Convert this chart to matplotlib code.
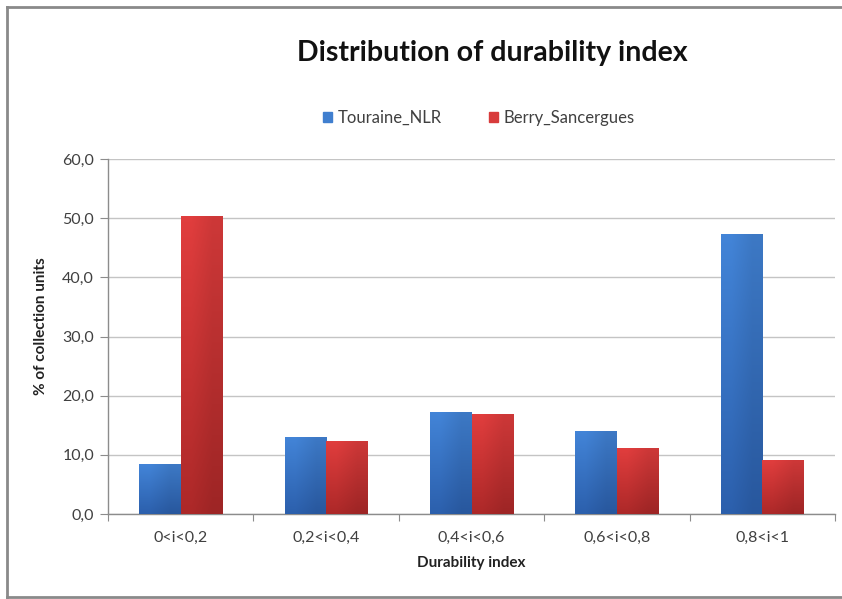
import matplotlib
matplotlib.use("Agg")
import matplotlib.pyplot as plt
import numpy as np
from matplotlib.lines import Line2D
from matplotlib.patches import Rectangle

categories = ["0<i<0,2", "0,2<i<0,4", "0,4<i<0,6", "0,6<i<0,8", "0,8<i<1"]
touraine = [8.4, 13.0, 17.2, 14.0, 47.4]
berry = [50.4, 12.4, 16.9, 11.1, 9.1]
series_names = ["Touraine_NLR", "Berry_Sancergues"]
yticks = [0, 10, 20, 30, 40, 50, 60]
ytick_labels = ["0,0", "10,0", "20,0", "30,0", "40,0", "50,0", "60,0"]

plt.rcParams['font.family'] = ['Lato', 'DejaVu Sans']

fig = plt.figure(figsize=(8.42, 5.99), dpi=100)
ax = fig.add_axes([108/842, 85/599, 727/842, 355/599])

x = np.arange(len(categories))
w = 0.286
blue_top, blue_bot = np.array([0x40, 0x7f, 0xcf]) / 255, np.array([0x2a, 0x5c, 0xa6]) / 255
red_top, red_bot = np.array([0xd8, 0x3b, 0x3b]) / 255, np.array([0xa6, 0x27, 0x27]) / 255

def grad_bars(xs, vals, ctop, cbot, label):
    bars = ax.bar(xs, vals, width=w, color=ctop, label=label, zorder=3, linewidth=0)
    for b in bars:
        x0, y0 = b.get_x(), b.get_y()
        bw, bh = b.get_width(), b.get_height()
        n = 64
        t = np.linspace(0, 1, n)[:, None]
        img = (cbot[None, None, :] * (1 - t[..., None]) + ctop[None, None, :] * t[..., None])
        img = np.repeat(img, 2, axis=1)
        hs = np.linspace(1.04, 0.95, 2)[None, :, None]
        img = np.clip(img * hs, 0, 1)
        im = ax.imshow(img, extent=(x0, x0 + bw, y0, y0 + bh), origin='lower',
                       aspect='auto', zorder=4, interpolation='bilinear')
        im.set_clip_path(b)
    return bars

grad_bars(x - w/2, touraine, blue_top, blue_bot, series_names[0])
grad_bars(x + w/2, berry, red_top, red_bot, series_names[1])

ax.set_xlim(-0.5, len(categories) - 0.5)
ax.set_ylim(0, 60)
ax.set_yticks(yticks)
ax.set_yticklabels(ytick_labels, fontsize=11.5, color='#404040')
ax.yaxis.grid(True, color='#c4c4c4', linewidth=1.0, zorder=0)
ax.set_axisbelow(True)

ax.set_xticks(np.arange(-0.5, len(categories), 1.0))
ax.set_xticklabels([])
ax.set_xticks(x, minor=True)
ax.set_xticklabels(categories, minor=True, fontsize=11.5, color='#404040')
ax.tick_params(axis='x', which='minor', length=0, pad=12)
ax.tick_params(axis='x', which='major', length=5, color='#8c8c8c', direction='out')
ax.tick_params(axis='y', length=6, color='#8c8c8c', direction='out', pad=4)

for s in ['top', 'right']:
    ax.spines[s].set_visible(False)
for s in ['left', 'bottom']:
    ax.spines[s].set_color('#8c8c8c')
    ax.spines[s].set_linewidth(1.0)

ax.set_xlabel("Durability index", fontsize=11, fontweight='bold', color='#222222', labelpad=8)
ax.set_ylabel("% of collection units", fontsize=11, fontweight='bold', color='#222222', labelpad=6)
ax.yaxis.set_label_coords(-0.083, 0.53)

fig.text(492/842, 1 - 53/599, "Distribution of durability index", ha='center', va='center',
         fontsize=20.5, fontweight='bold', color='#111111')

handles = [Rectangle((0, 0), 1, 1, color=blue_top), Rectangle((0, 0), 1, 1, color=red_top)]
fig.legend(handles, series_names, loc='center', bbox_to_anchor=(479/842, 1 - 118/599),
           ncol=2, frameon=False, fontsize=12, handlelength=0.55, handleheight=0.55,
           handletextpad=0.35, columnspacing=2.8, labelcolor='#404040')

# outer chart frame
fig.add_artist(Line2D([7/842, 7/842], [0, 1 - 7/599], transform=fig.transFigure, color='#8a8a8a', lw=2))
fig.add_artist(Line2D([7/842, 1], [1 - 7/599, 1 - 7/599], transform=fig.transFigure, color='#8a8a8a', lw=2))
fig.add_artist(Line2D([7/842, 1], [2/599, 2/599], transform=fig.transFigure, color='#8a8a8a', lw=2))

fig.savefig("out.png", dpi=100)
